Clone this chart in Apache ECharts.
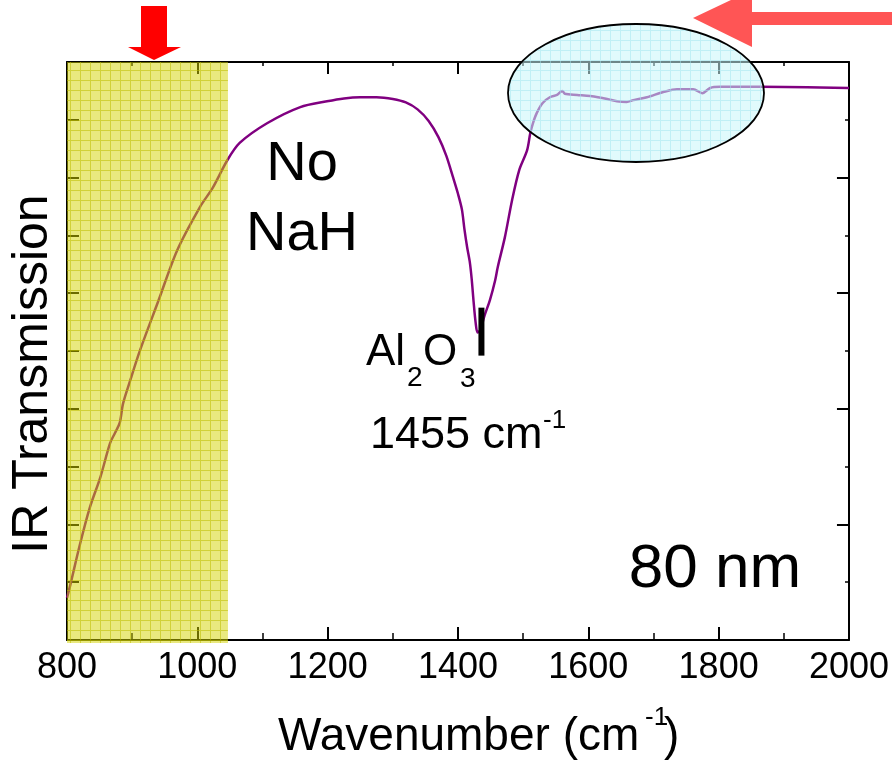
<!DOCTYPE html>
<html>
<head>
<meta charset="utf-8">
<script src="https://cdn.jsdelivr.net/npm/echarts@6/dist/echarts.min.js"></script>
<style>
  html, body { margin: 0; padding: 0; background: #fff; }
  #chart { width: 892px; height: 766px; }
</style>
</head>
<body>
<div id="chart"></div>
<script>
var xMin = 800, xMax = 2000, xStep = 200;
var yMin = 0, yMax = 10;

var wavenumber = [800, 805, 820, 835, 851, 866, 874, 881, 886, 897,
    912, 940, 969, 1004, 1024, 1046, 1065, 1107, 1158, 1199,
    1225, 1250, 1275, 1300, 1320, 1338, 1355, 1370, 1382, 1392,
    1400, 1406, 1410, 1414, 1418, 1421, 1424, 1427, 1430, 1434,
    1441, 1449, 1457, 1461, 1472, 1483, 1494, 1506, 1511, 1515,
    1521, 1530, 1541, 1552, 1560, 1564, 1583, 1603, 1629, 1644,
    1659, 1669, 1690, 1715, 1736, 1761, 1775, 1787, 1802, 1863, 2000];
var transmission = [0.73, 0.95, 1.66, 2.29, 2.81, 3.40, 3.59, 3.76, 4.09, 4.49,
    5.01, 5.86, 6.74, 7.49, 7.83, 8.30, 8.60, 8.94, 9.22, 9.32,
    9.37, 9.39, 9.39, 9.36, 9.30, 9.18, 8.98, 8.70, 8.38, 8.02,
    7.72, 7.45, 7.10, 6.80, 6.55, 6.25, 5.85, 5.50, 5.32, 5.36,
    5.62, 5.88, 6.22, 6.45, 6.97, 7.61, 8.13, 8.47, 8.77, 8.94,
    9.12, 9.29, 9.39, 9.43, 9.50, 9.45, 9.43, 9.41, 9.36, 9.32,
    9.31, 9.34, 9.39, 9.48, 9.53, 9.53, 9.46, 9.55, 9.57, 9.57, 9.55];

// shaded band and peak marker, in data units
var bandFrom = 800, bandTo = 1047;
var peakMark = 1436;

var font = 'Liberation Sans, Arial, sans-serif';

function gridPattern(bg, line, cell) {
    var c = document.createElement('canvas');
    c.width = cell; c.height = cell;
    var ctx = c.getContext('2d');
    ctx.fillStyle = bg;
    ctx.fillRect(0, 0, cell, cell);
    ctx.fillStyle = line;
    ctx.fillRect(0, 0, 1, cell);
    ctx.fillRect(1, 0, cell - 1, 1);
    return { image: c, repeat: 'repeat' };
}

var chartDom = document.getElementById('chart');
var myChart = echarts.init(chartDom);

var seriesData = wavenumber.map(function (w, i) { return [w, transmission[i]]; });

var axisCommon = {
    type: 'value',
    splitLine: { show: false },
    axisLine: { onZero: false, lineStyle: { color: '#000', width: 2 } }
};

var option = {
    animation: false,
    grid: { left: 67, right: 43, top: 62, bottom: 126 },
    xAxis: [
        Object.assign({}, axisCommon, {
            position: 'bottom', min: xMin, max: xMax, interval: xStep,
            axisTick: { inside: true, length: 13, lineStyle: { color: '#000', width: 2 } },
            minorTick: { show: true, splitNumber: 2, length: 7, lineStyle: { color: '#000', width: 1.5 } },
            axisLabel: {
                fontSize: 36, color: '#000', margin: 10, fontFamily: font,
                formatter: function (v) { return String(v); }
            }
        }),
        Object.assign({}, axisCommon, {
            position: 'top', min: xMin, max: xMax, interval: xStep,
            axisTick: { inside: true, length: 12, lineStyle: { color: '#000', width: 2 } },
            minorTick: { show: true, splitNumber: 2, length: 4, lineStyle: { color: '#000', width: 1.5 } },
            axisLabel: { show: false }
        })
    ],
    yAxis: [
        Object.assign({}, axisCommon, {
            position: 'left', min: yMin, max: yMax, interval: 1,
            axisTick: { inside: true, length: 12, lineStyle: { color: '#000', width: 2 } },
            axisLabel: { show: false }
        }),
        Object.assign({}, axisCommon, {
            position: 'right', min: yMin, max: yMax, interval: 2,
            axisTick: { inside: true, length: 12, lineStyle: { color: '#000', width: 2 } },
            minorTick: { show: true, splitNumber: 2, length: 4, lineStyle: { color: '#000', width: 1.5 } },
            axisLabel: { show: false }
        })
    ],
    series: [{
        type: 'line',
        data: seriesData,
        showSymbol: false,
        smooth: 0.3,
        lineStyle: { color: '#800080', width: 2.5 },
        itemStyle: { color: '#800080' }
    }]
};

option && myChart.setOption(option);

// overlays placed through the axes
var ref = { xAxisIndex: 0, yAxisIndex: 0 };
var bandA = myChart.convertToPixel(ref, [bandFrom, yMax]);
var bandB = myChart.convertToPixel(ref, [bandTo, yMin]);
var markTop = myChart.convertToPixel(ref, [peakMark, 5.75]);
var markBot = myChart.convertToPixel(ref, [peakMark, 4.92]);

function txt(text, x, y, size, align) {
    return {
        type: 'text', x: x, y: y, z: 110,
        style: { text: text, fill: '#000', font: size + 'px ' + font,
                 align: align || 'left', verticalAlign: 'middle' }
    };
}

myChart.setOption({
    graphic: [
        {
            type: 'rect', z: 100,
            shape: { x: bandA[0], y: bandA[1], width: bandB[0] - bandA[0], height: bandB[1] - bandA[1] + 3 },
            style: { fill: gridPattern('rgba(212,212,0,0.5)', 'rgba(190,190,0,0.55)', 10) }
        },
        {
            type: 'ellipse', z: 100,
            shape: { cx: 636, cy: 93, rx: 128, ry: 69 },
            style: { fill: gridPattern('rgba(200,245,250,0.55)', 'rgba(160,230,240,0.5)', 10),
                     stroke: '#000', lineWidth: 1.8 }
        },
        {
            type: 'polygon', z: 105,
            shape: { points: [[141, 6], [167, 6], [167, 47], [181, 47], [154, 60], [128, 47], [141, 47]] },
            style: { fill: '#ff0000' }
        },
        {
            type: 'polygon', z: 105,
            shape: { points: [[892, 12], [752, 12], [752, -10], [693, 18], [752, 47], [752, 25], [892, 25]] },
            style: { fill: '#ff5555' }
        },
        {
            type: 'rect', z: 105,
            shape: { x: markTop[0] - 3, y: markTop[1], width: 6, height: markBot[1] - markTop[1] },
            style: { fill: '#000' }
        },
        txt('No', 302, 165, 56, 'center'),
        txt('NaH', 302, 235, 56, 'center'),
        txt('80 nm', 715, 570, 62, 'center'),
        txt('Al', 366, 353, 44),
        txt('2', 407, 378, 28),
        txt('O', 423, 353, 44),
        txt('3', 460, 379, 28),
        txt('1455 cm', 370, 436, 45),
        txt('-1', 543, 421, 26),
        txt('Wavenumber (cm', 278, 737, 46),
        txt('-1', 645, 718, 26),
        txt(')', 664, 737, 46),
        {
            type: 'text', z: 110, x: 33, y: 374, rotation: Math.PI / 2,
            style: { text: 'IR Transmission', fill: '#000', font: '50px ' + font,
                     align: 'center', verticalAlign: 'middle' }
        }
    ]
});

window.addEventListener('resize', function () {
    myChart.resize();
});
</script>
</body>
</html>
